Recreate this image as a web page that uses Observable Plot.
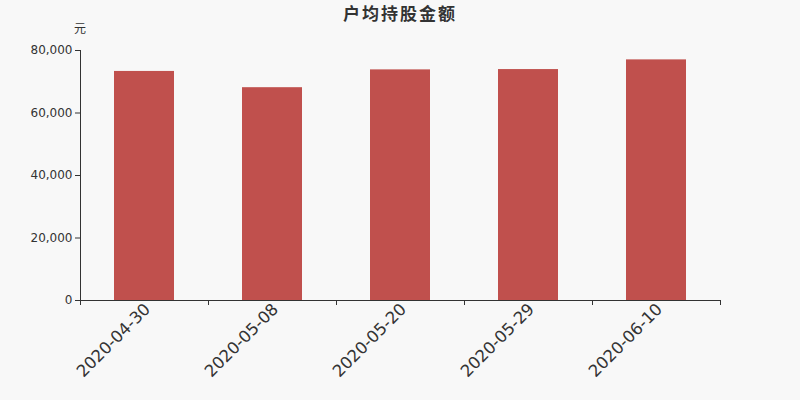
<!DOCTYPE html>
<html><head><meta charset="utf-8">
<script src="https://cdn.jsdelivr.net/npm/d3@7"></script>
<script src="https://cdn.jsdelivr.net/npm/@observablehq/plot@0.6"></script>
<style>
html,body{margin:0;padding:0;background:#f8f8f8;}
#wrap{position:relative;width:800px;height:400px;font-family:"DejaVu Sans","Noto Sans CJK SC",sans-serif;}
#wrap svg{position:absolute;left:0;top:0;}
#title{position:absolute;left:0;width:800px;top:2px;line-height:21px;text-align:center;font-size:17px;letter-spacing:2px;font-weight:bold;color:#333;font-family:"Noto Sans CJK SC","DejaVu Sans",sans-serif;z-index:2;}
#unit{position:absolute;left:74px;top:19px;line-height:18px;font-size:12px;color:#333;font-family:"Noto Sans CJK SC",sans-serif;z-index:2;}
</style></head>
<body><div id="wrap"><div id="title">户均持股金额</div><div id="unit">元</div></div>
<script>
const dates = ["2020-04-30","2020-05-08","2020-05-20","2020-05-29","2020-06-10"];
const values = [73300, 68100, 73800, 73900, 77000];
const yTicks = [0, 20000, 40000, 60000, 80000];

const data = dates.map((d, i) => ({date: d, value: values[i], i}));
const chart = Plot.plot({
  width: 800, height: 400,
  marginTop: 50, marginBottom: 100, marginLeft: 80, marginRight: 80,
  style: {background: "transparent", fontFamily: "DejaVu Sans, sans-serif", color: "#333"},
  x: {domain: [0, dates.length], axis: null},
  y: {domain: [0, 80000], axis: null},
  marks: [
    Plot.rect(data, {x1: d => d.i, x2: d => d.i + 1, y1: 0, y2: "value", fill: "#c0504d", insetLeft: 34, insetRight: 34}),
    Plot.axisY({ticks: yTicks, tickSize: 5, tickFormat: d3.format(","), label: null, fontSize: 12, tickPadding: 3, stroke: "#333", fill: "#333"}),
    Plot.ruleX([0], {stroke: "#333"}),
    Plot.ruleY([0], {stroke: "#333"}),
    Plot.axisX({ticks: d3.range(dates.length + 1), tickSize: 5, tickFormat: () => "", label: null, stroke: "#333"}),
    Plot.text(data, {x: d => d.i + 0.5, y: 0, text: "date", rotate: -45, textAnchor: "end", dx: 3, dy: 6, fontSize: 16.5, fill: "#333"})
  ]
});
document.getElementById("wrap").appendChild(chart);
</script></body></html>
